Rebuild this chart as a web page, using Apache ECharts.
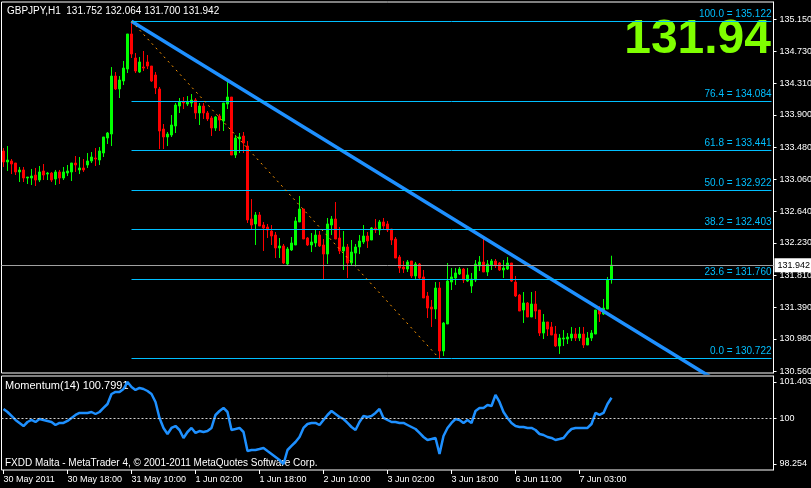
<!DOCTYPE html>
<html><head><meta charset="utf-8">
<script src="https://cdn.jsdelivr.net/npm/echarts@6/dist/echarts.min.js"></script>
<style>html,body{margin:0;padding:0;background:#000;overflow:hidden}#c{width:811px;height:488px}</style>
</head><body><div id="c"></div><script>
// ---------- data ----------
const barCount = 193;                 // slots on the time axis (153 filled)
const timeLabelStep = 16;             // bars between time labels
const timeLabels = ['30 May 2011','30 May 18:00','31 May 10:00','1 Jun 02:00','1 Jun 18:00',
  '2 Jun 10:00','3 Jun 02:00','3 Jun 18:00','6 Jun 11:00','7 Jun 03:00'];

const opens = [133.429,133.286,133.299,133.273,133.156,133.182,133.077,133.077,133.116,133.051,
133.169,133.129,133.142,133.064,133.156,133.077,133.142,133.156,133.273,133.182,
133.208,133.247,133.299,133.338,133.312,133.403,133.599,133.651,134.407,134.238,
134.342,134.498,134.955,134.642,134.459,134.524,134.590,134.537,134.420,134.238,
133.716,133.612,133.638,133.755,134.016,134.068,134.042,134.055,134.094,133.925,
134.016,133.925,133.860,133.729,133.886,133.820,134.042,134.133,133.377,133.586,
133.625,133.494,132.543,132.478,132.595,132.464,132.438,132.386,132.334,132.165,
132.191,131.956,132.139,132.204,132.504,132.673,132.295,132.204,132.230,132.334,
132.204,132.086,132.464,132.543,132.295,132.126,132.178,131.969,132.099,132.178,
132.243,132.321,132.269,132.425,132.399,132.504,132.478,132.412,132.282,132.047,
131.917,131.891,131.995,131.800,131.956,131.787,131.539,131.395,131.369,131.643,
130.822,131.174,131.721,131.773,131.826,131.891,131.734,131.669,131.747,131.930,
131.982,131.852,131.943,131.995,131.969,131.878,131.891,131.969,131.721,131.552,
131.356,131.448,131.265,131.434,131.356,131.056,131.200,131.135,131.043,130.887,
130.978,130.978,130.991,131.043,130.991,131.043,130.900,130.991,131.043,131.356,
131.304,131.369,131.752];
const closes = [133.286,133.312,133.260,133.156,133.182,133.077,133.090,133.103,133.051,133.156,
133.116,133.142,133.051,133.156,133.077,133.156,133.169,133.273,133.247,133.208,
133.182,133.299,133.351,133.325,133.429,133.612,133.664,134.407,134.238,134.355,
134.511,134.955,134.694,134.472,134.590,134.511,134.537,134.342,134.251,133.690,
133.612,133.651,133.768,134.029,134.068,134.055,134.068,134.094,133.925,134.016,
133.925,133.847,133.729,133.873,133.833,134.055,134.133,133.377,133.599,133.612,
133.534,132.530,132.464,132.595,132.451,132.425,132.399,132.321,132.165,132.191,
131.969,132.152,132.230,132.517,132.673,132.282,132.204,132.243,132.334,132.191,
132.086,132.478,132.543,132.282,132.126,132.178,131.969,132.112,132.178,132.256,
132.321,132.256,132.425,132.399,132.504,132.451,132.399,132.269,132.034,131.904,
131.891,131.982,131.800,131.956,131.773,131.513,131.382,131.369,131.643,130.822,
131.187,131.734,131.787,131.839,131.891,131.747,131.813,131.760,131.956,131.982,
131.852,131.956,131.995,131.943,131.878,131.904,131.969,131.734,131.539,131.343,
131.448,131.265,131.434,131.343,131.056,131.200,131.108,131.030,130.887,130.991,
130.991,131.004,131.043,130.991,131.043,130.900,130.991,131.056,131.356,131.304,
131.382,131.747,131.942];
const lows = [133.221,133.169,133.129,133.116,133.025,133.025,132.999,132.986,132.973,133.025,
133.051,133.051,133.025,132.986,132.999,133.051,133.103,133.038,133.156,133.129,
133.156,133.208,133.273,133.234,133.247,133.351,133.521,133.494,134.225,134.120,
134.290,134.446,134.642,134.446,134.446,134.472,134.498,134.329,134.172,133.455,
133.455,133.494,133.612,133.664,133.925,133.977,134.016,134.003,133.847,133.768,
133.847,133.820,133.625,133.690,133.690,133.690,133.977,133.377,133.338,133.403,
133.403,132.491,132.399,132.204,132.451,132.126,132.295,132.204,132.034,132.034,
131.956,131.943,132.126,132.204,132.504,132.282,132.191,132.112,132.178,132.178,
131.760,131.956,132.334,132.282,132.086,131.878,131.773,131.943,131.930,132.086,
132.217,132.165,132.269,132.360,132.334,132.399,132.373,132.204,132.034,131.839,
131.839,131.852,131.773,131.760,131.760,131.513,131.252,131.135,131.239,130.722,
130.757,131.174,131.617,131.682,131.813,131.708,131.721,131.578,131.721,131.865,
131.852,131.800,131.878,131.904,131.865,131.773,131.878,131.721,131.526,131.343,
131.187,131.265,131.265,131.239,131.017,130.978,131.017,131.030,130.874,130.783,
130.887,130.913,130.952,130.952,130.952,130.861,130.900,130.952,131.043,131.200,
131.291,131.369,131.700];
const highs = [133.468,133.494,133.325,133.273,133.221,133.221,133.090,133.195,133.208,133.234,
133.260,133.156,133.156,133.182,133.182,133.221,133.247,133.273,133.364,133.351,
133.325,133.403,133.416,133.468,133.481,133.612,133.677,134.524,134.459,134.407,
134.603,134.955,135.122,134.707,134.655,134.733,134.681,134.537,134.459,134.264,
133.781,133.677,133.899,134.055,134.120,134.133,134.146,134.172,134.120,134.055,
134.055,133.951,133.886,133.886,133.912,134.055,134.355,134.133,133.638,133.664,
133.677,133.560,132.803,132.634,132.634,132.504,132.478,132.464,132.373,132.295,
132.217,132.178,132.308,132.569,132.843,132.673,132.308,132.360,132.399,132.386,
132.282,132.556,132.582,132.764,132.438,132.386,132.217,132.269,132.217,132.334,
132.464,132.373,132.438,132.543,132.530,132.556,132.517,132.412,132.308,132.073,
131.995,132.008,131.995,131.982,131.969,131.878,131.591,131.487,131.721,131.721,
131.200,131.969,131.904,131.904,131.917,131.904,131.904,131.839,132.008,132.060,
132.282,132.008,132.021,132.021,131.982,132.008,132.047,131.969,131.800,131.565,
131.591,131.461,131.591,131.604,131.356,131.304,131.200,131.200,131.148,131.043,
131.095,131.056,131.135,131.122,131.135,131.135,131.069,131.095,131.356,131.408,
131.500,131.787,132.064];

const momentum = [100.366,100.251,100.098,99.944,99.829,99.713,99.867,99.944,99.867,99.982,
99.944,99.906,99.867,99.752,99.829,99.829,99.906,100.021,100.136,100.213,
100.213,100.213,100.251,100.174,100.251,100.405,100.558,100.942,101.019,101.019,
101.134,101.403,101.211,101.096,101.173,101.134,101.057,100.942,100.635,100.021,
99.637,99.406,99.637,99.713,99.560,99.253,99.483,99.637,99.445,99.521,
99.483,99.521,99.637,100.136,100.289,100.405,100.251,99.560,99.598,99.637,
99.483,98.753,98.792,98.792,98.830,98.869,98.753,98.638,98.523,98.408,
98.254,98.792,98.947,99.099,99.291,99.637,99.790,99.829,99.829,99.752,
99.944,100.136,100.289,100.174,100.059,99.982,99.829,99.675,99.560,99.867,
100.098,100.059,100.098,100.213,100.366,100.021,99.944,99.867,99.867,99.829,
99.829,99.752,99.675,99.598,99.445,99.291,99.176,99.214,99.253,98.638,
99.329,99.637,99.829,99.982,99.944,99.829,99.944,99.829,100.289,100.405,
100.405,100.520,100.481,100.904,100.635,100.251,100.021,99.829,99.713,99.675,
99.675,99.637,99.637,99.560,99.406,99.368,99.291,99.253,99.176,99.214,
99.253,99.445,99.598,99.637,99.637,99.637,99.637,99.790,100.213,100.136,
100.213,100.558,100.799];

const priceTicks = [135.150,134.730,134.310,133.900,133.480,133.060,132.640,132.230,131.810,131.390,130.980,130.560];
const momentumTicks = [101.403,100,98.254];
const fibLevels = [100.0,76.4,61.8,50.0,38.2,23.6,0.0];
const fibPrices = [135.122,134.084,133.441,132.922,132.403,131.760,130.722];
const fibStartBar = 32, fibEndBar = 192;
const trendLine = [[32,135.122],[177,130.475]];
const fibBaseLine = [[32,135.122],[109,130.722]];
const lastPrice = 131.942;
const momentumLast = '100.7991';
const header = 'GBPJPY,H1  131.752 132.064 131.700 131.942';
const bigPrice = '131.94';

// ---------- chart ----------
const FONT = '"Liberation Sans", Arial, sans-serif';
const categories = Array.from({length: barCount}, (_, i) => String(i));
const candles = opens.map((o, i) => [o, closes[i], lows[i], highs[i]]);
const showEvery = (idx) => idx % timeLabelStep === 0 && idx / timeLabelStep < timeLabels.length;
const fibColor = '#00bfff';

const fibMarks = fibPrices.map((p, k) => [
  {coord: [fibStartBar, p], lineStyle: {color: fibColor, width: 1, type: 'solid'},
   label: {show: true, position: 'insideEndTop', formatter: fibLevels[k].toFixed(1) + ' = ' + p.toFixed(3),
           color: fibColor, fontSize: 10, fontFamily: FONT, distance: [0, 2]}},
  {coord: [fibEndBar, p]}
]);

const gridBase = {left: 1.5, width: 772, show: true, borderColor: '#fff', borderWidth: 1,
  backgroundColor: 'transparent', containLabel: false, outerBoundsMode: 'none'};

const chart = echarts.init(document.getElementById('c'), null, {renderer: 'canvas'});
chart.setOption({
  backgroundColor: '#000',
  animation: false,
  grid: [
    Object.assign({}, gridBase, {top: 2, height: 371}),
    Object.assign({}, gridBase, {top: 376, height: 94})
  ],
  xAxis: [
    {type: 'category', gridIndex: 0, data: categories, boundaryGap: true,
     axisLine: {show: false}, axisTick: {show: false}, axisLabel: {show: false}, splitLine: {show: false}},
    {type: 'category', gridIndex: 1, data: categories, boundaryGap: true,
     axisLine: {show: false},
     axisTick: {show: true, alignWithLabel: true, interval: showEvery, length: 4, lineStyle: {color: '#fff'}},
     axisLabel: {show: true, interval: showEvery, align: 'left', margin: 5, color: '#fff', fontSize: 9, fontFamily: FONT,
                 formatter: (v, idx) => timeLabels[Math.round(idx / timeLabelStep)] || ''},
     splitLine: {show: false}}
  ],
  yAxis: [
    {type: 'value', gridIndex: 0, position: 'right', min: 130.535, max: 135.372, scale: true,
     axisLine: {show: true, lineStyle: {color: '#fff'}},
     axisTick: {show: true, length: 3, lineStyle: {color: '#fff'}, customValues: priceTicks},
     axisLabel: {show: true, color: '#fff', fontSize: 9, fontFamily: FONT, margin: 6,
                 customValues: priceTicks, formatter: v => v.toFixed(3)},
     splitLine: {show: false}},
    {type: 'value', gridIndex: 1, position: 'right', min: 98.024, max: 101.633, scale: true,
     axisLine: {show: true, lineStyle: {color: '#fff'}},
     axisTick: {show: true, length: 3, lineStyle: {color: '#fff'}, customValues: momentumTicks},
     axisLabel: {show: true, color: '#fff', fontSize: 9, fontFamily: FONT, margin: 6,
                 customValues: momentumTicks, formatter: v => (v === 100 ? '100' : v.toFixed(3))},
     splitLine: {show: false}}
  ],
  series: [
    {type: 'candlestick', xAxisIndex: 0, yAxisIndex: 0, data: candles, barWidth: 2,
     itemStyle: {color: '#00ff00', color0: '#ff0000', borderColor: '#00ff00', borderColor0: '#ff0000', borderWidth: 1},
     markLine: {silent: true, symbol: ['none', 'none'], animation: false,
       data: [
         ...fibMarks,
         [{coord: fibBaseLine[0], lineStyle: {color: '#ff9900', width: 1, type: [2, 4]}, label: {show: false}},
          {coord: fibBaseLine[1]}],
         {yAxis: lastPrice, lineStyle: {color: '#a0a0a0', width: 1, type: 'solid'},
          label: {show: true, position: 'end', align: 'left', formatter: lastPrice.toFixed(3), color: '#000', backgroundColor: '#fff',
                  fontSize: 9, fontFamily: FONT, padding: [3, 3, 2, 3], distance: 1}}
       ]}},
    {type: 'line', xAxisIndex: 0, yAxisIndex: 0, data: trendLine, symbol: 'none', clip: true,
     lineStyle: {color: '#1e90ff', width: 3.5}, z: 3},
    {type: 'line', xAxisIndex: 1, yAxisIndex: 1, data: momentum, symbol: 'none',
     lineStyle: {color: '#1e90ff', width: 2.5},
     markLine: {silent: true, symbol: ['none', 'none'], animation: false,
       data: [{yAxis: 100, lineStyle: {color: '#d0d0d0', width: 1, type: [2, 2]}, label: {show: false}}]}}
  ],
  graphic: [
    {type: 'text', left: 7, top: 6, style: {text: header, fill: '#fff', font: '10px ' + FONT}},
    {type: 'text', right: 40, top: 16, style: {text: bigPrice, fill: '#7fff00', font: 'bold 48px ' + FONT}},
    {type: 'text', left: 5, top: 380, style: {text: 'Momentum(14) ' + momentumLast, fill: '#fff', font: '11px ' + FONT}},
    {type: 'text', left: 5, top: 458, style: {text: 'FXDD Malta - MetaTrader 4, \u00a9 2001-2011 MetaQuotes Software Corp.', fill: '#fff', font: '10px ' + FONT}}
  ]
});
</script></body></html>
